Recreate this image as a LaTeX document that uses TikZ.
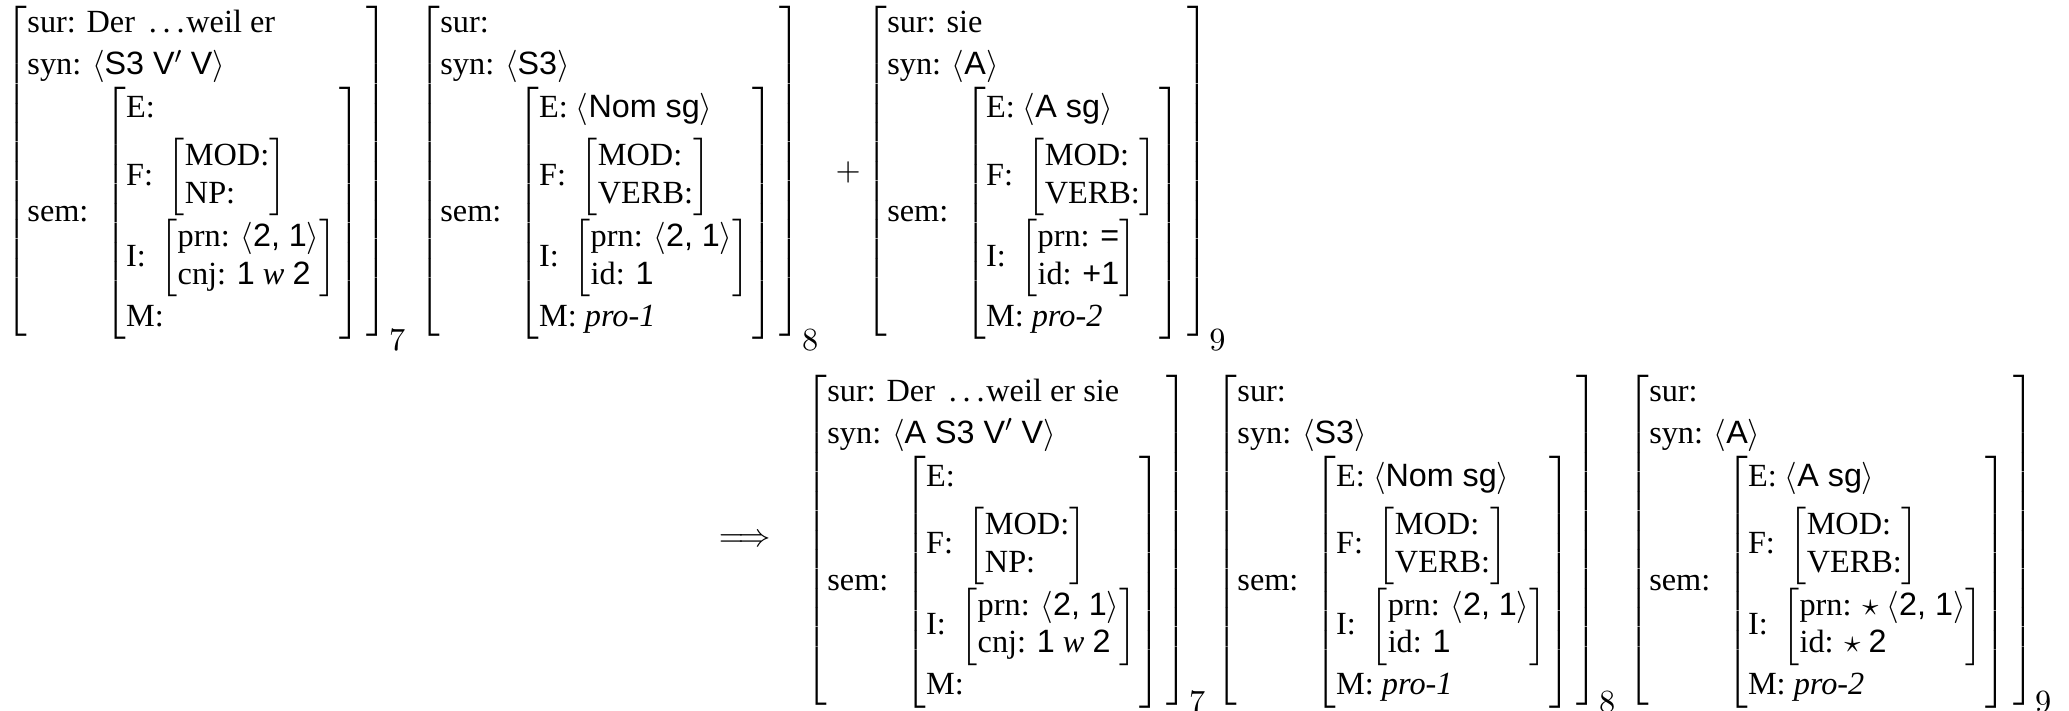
\documentclass[tikz,border=0pt]{standalone}
\usepackage{exscale}
\usepackage{fontspec}
\setmainfont{Liberation Serif}
\setsansfont{Liberation Sans}
\renewcommand{\arraystretch}{1.047}
% sem matrix
\newcommand{\fs}[1]{\left[\begin{tabular}{@{}l@{\hspace{1pt}}}#1\end{tabular}\right]}
% nested matrix (F, I)
\newcommand{\nfs}[1]{\left[\def\arraystretch{0.934}\begin{tabular}{@{}l@{}}#1\end{tabular}\right]}
% outer proplet: sur, syn, sem
\newcommand{\prop}[3]{\left[\begin{tabular}{@{}l@{\hspace{5.5pt}}l@{\hspace{2pt}}}%
\multicolumn{2}{@{}l@{\hspace{2pt}}}{sur: #1}\\
\multicolumn{2}{@{}l@{\hspace{2pt}}}{syn: #2}\\
sem: & $#3$\end{tabular}\right]}
\newcommand{\ang}[1]{$\langle$#1$\rangle$}
\newcommand{\nest}{\hspace{5pt}}
\newcommand{\ellip}{\hspace{4.7pt}.\kern1.95pt.\kern1.95pt.\kern0.6pt}
\newcommand{\vb}{VERB:\hspace{3.4pt}}
\tikzset{
  avm/.style={inner sep=0pt, anchor=base west, font=\fontsize{10.95pt}{13.6pt}\selectfont},
  op/.style={inner sep=0pt, anchor=center, font=\fontsize{10.95pt}{13.6pt}\selectfont},
  idx/.style={inner sep=0pt, anchor=base west, font=\fontsize{10.95pt}{13.6pt}\selectfont}
}
\begin{document}
\begin{tikzpicture}[x=1pt,y=1pt]
\useasboundingbox (0,0) rectangle (701.4,-240.7);
% top row
\node[avm] (p7) at (1.8,-60.85) {$\prop{Der\ellip weil er}{\ang{\textsf{S3 V}$'$ \textsf{V}}}%
{\fs{E:\\[2.8pt] F:\nest$\nfs{MOD:\\ NP:}$\\[7.3pt] I:\nest$\nfs{prn: \ang{\textsf{2, 1}}\\ cnj: \textsf{1} \textit{w} \textsf{2}}$\\ M:}}$};
\node[avm] (p8) at (141.8,-60.85) {$\prop{}{\ang{\textsf{S3}}}%
{\fs{E: \ang{\textsf{Nom sg}}\\[2.8pt] F:\nest$\nfs{MOD:\\ \vb}$\\[7.3pt] I:\nest$\nfs{prn: \ang{\textsf{2, 1}}\\ id: \textsf{1}}$\\ M: \textit{pro-1}}}$};
\node[op] (plus) at (287.5,-58.6) {$+$};
\node[avm] (p9) at (293.3,-60.85) {$\prop{sie}{\ang{\textsf{A}}}%
{\fs{E: \ang{\textsf{A sg}}\\[2.8pt] F:\nest$\nfs{MOD:\\ \vb}$\\[7.3pt] I:\nest$\nfs{prn: \textsf{=}\\ id: \textsf{+1}}$\\ M: \textit{pro-2}}}$};
\node[idx] (i7) at ([xshift=-0.2pt,yshift=-3.7pt]p7.south east) {$7$};
\node[idx] (i8) at ([xshift=-0.2pt,yshift=-3.7pt]p8.south east) {$8$};
\node[idx] (i9) at ([xshift=-0.2pt,yshift=-3.7pt]p9.south east) {$9$};
% bottom row
\node[op] (arr) at (252.5,-183.1) {$\Longrightarrow$};
\node[avm] (q7) at (273.0,-185.85) {$\prop{Der\ellip weil er sie}{\ang{\textsf{A S3 V}$'$ \textsf{V}}}%
{\fs{E:\\[2.8pt] F:\nest$\nfs{MOD:\\ NP:}$\\[7.3pt] I:\nest$\nfs{prn: \ang{\textsf{2, 1}}\\ cnj: \textsf{1} \textit{w} \textsf{2}}$\\ M:}}$};
\node[avm] (q8) at (412.0,-185.85) {$\prop{}{\ang{\textsf{S3}}}%
{\fs{E: \ang{\textsf{Nom sg}}\\[2.8pt] F:\nest$\nfs{MOD:\\ \vb}$\\[7.3pt] I:\nest$\nfs{prn: \ang{\textsf{2, 1}}\\ id: \textsf{1}}$\\ M: \textit{pro-1}}}$};
\node[avm] (q9) at (551.6,-185.85) {$\prop{}{\ang{\textsf{A}}}%
{\fs{E: \ang{\textsf{A sg}}\\[2.8pt] F:\nest$\nfs{MOD:\\ \vb}$\\[7.3pt] I:\nest$\nfs{prn: $\star$ \ang{\textsf{2, 1}}\\ id: $\star$ \textsf{2}}$\\ M: \textit{pro-2}}}$};
\node[idx] (j7) at ([xshift=-0.2pt,yshift=-1.2pt]q7.south east) {$7$};
\node[idx] (j8) at ([xshift=-0.2pt,yshift=-1.2pt]q8.south east) {$8$};
\node[idx] (j9) at ([xshift=-0.2pt,yshift=-1.2pt]q9.south east) {$9$};
\end{tikzpicture}
\end{document}
